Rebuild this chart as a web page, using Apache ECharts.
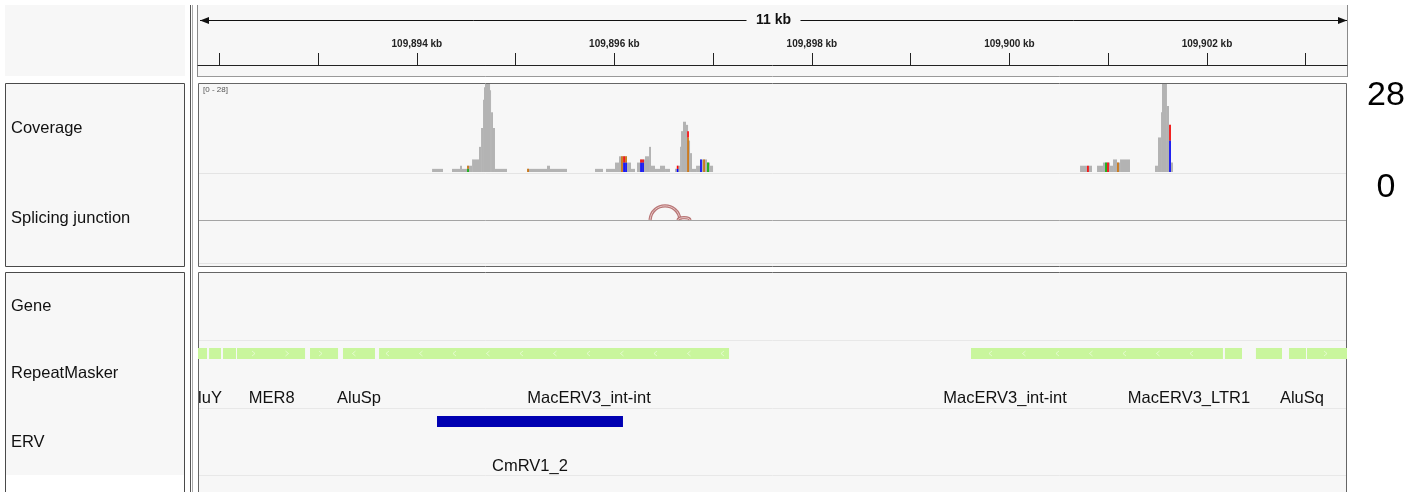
<!DOCTYPE html>
<html><head><meta charset="utf-8">
<script src="https://cdn.jsdelivr.net/npm/echarts@6/dist/echarts.min.js"></script>
<style>html,body{margin:0;padding:0;background:#fff;}#c{width:1414px;height:492px;}</style>
</head><body><div id="c"></div>
<script>
// ---------------- DATA ----------------
const viewStart = 109891784;
const viewEnd = 109903418;
const rulerTicks = [109892000,109893000,109894000,109895000,109896000,109897000,109898000,109899000,109900000,109901000,109902000,109903000];
const rulerLabels = [109894000,109896000,109898000,109900000,109902000];
const trackNames = ['Coverage','Splicing junction','Gene','RepeatMasker','ERV'];
const coverageMax = 28;
const sideLabels = [0, 28];
// [start, end, depth]
const coverage = [
 [109894154,109894265,1],[109894356,109894437,1],[109894437,109894457,2],[109894457,109894508,1],
 [109894508,109894559,2],[109894559,109894629,4],[109894629,109894650,8],[109894650,109894670,14],
 [109894670,109894680,23],[109894680,109894690,27],[109894690,109894741,28],[109894741,109894751,26],
 [109894751,109894771,19],[109894771,109894791,14],[109894791,109894913,1],
 [109895115,109895318,1],[109895318,109895348,2],[109895348,109895520,1],
 [109895804,109895885,1],[109895915,109896006,1],[109896006,109896047,3],[109896047,109896128,5],
 [109896128,109896168,3],[109896168,109896209,1],[109896229,109896260,3],[109896260,109896310,4],
 [109896310,109896351,5],[109896351,109896371,8],[109896371,109896411,2],[109896411,109896462,1],
 [109896462,109896513,2],[109896513,109896563,1],[109896614,109896634,1],[109896634,109896665,2],
 [109896665,109896675,8],[109896675,109896695,13],[109896695,109896725,16],[109896725,109896746,15],
 [109896746,109896766,10],[109896766,109896786,6],[109896786,109896827,1],[109896827,109896867,2],
 [109896867,109896938,4],[109896938,109896968,3],[109896968,109896999,2],
 [109900715,109900836,2],[109900887,109900947,2],[109900947,109901018,3],[109901018,109901049,2],
 [109901049,109901089,4],[109901089,109901120,3],[109901120,109901221,4],
 [109901474,109901504,2],[109901504,109901535,11],[109901535,109901545,19],[109901545,109901595,28],
 [109901595,109901616,21],[109901616,109901636,15],[109901636,109901656,3]
];
// [position, base, fromDepth, toDepth]
const mismatches = [
 [109894518,'A',0,1],[109894518,'G',1,2],[109895126,'G',0,1],
 [109896077,'G',0,5],[109896098,'C',0,3],[109896098,'T',3,5],[109896118,'C',0,3],[109896118,'G',3,5],
 [109896270,'C',0,3],[109896270,'T',3,4],[109896290,'C',0,3],[109896290,'T',3,4],
 [109896640,'C',0,1],[109896640,'T',1,2],[109896746,'G',0,11],[109896746,'T',11,13],
 [109896877,'C',0,4],[109896908,'G',0,4],[109896948,'A',0,3],
 [109900795,'T',0,2],[109900978,'A',0,3],[109900998,'T',0,3],[109901099,'G',0,3],
 [109901626,'C',0,10],[109901626,'T',10,15]
];
// [start, end, depth]
const junctions = [[109896361,109896665,3],[109896644,109896766,0.5]];
// [start, end, strand]
const repeatSegments = [
 [109891700,109891875,'+'],[109891896,109892017,'+'],[109892037,109892169,'+'],[109892179,109892868,'+'],
 [109892918,109893202,'+'],[109893252,109893576,'-'],[109893617,109897161,'-'],[109899611,109902162,'-'],
 [109902182,109902355,'-'],[109902496,109902760,'+'],[109902831,109903003,'+'],[109903013,109903600,'+']
];
const repeatLabels = [
 [109891850,'AluY'],[109892531,'MER8'],[109893414,'AluSp'],[109895743,'MacERV3_int-int'],
 [109899955,'MacERV3_int-int'],[109901818,'MacERV3_LTR1'],[109902962,'AluSq']
];
const ervFeatures = [[109894204,109896087,'CmRV1_2']];

// ---------------- STYLE / LAYOUT ----------------
const FONT = '"Liberation Sans", Arial, Helvetica, sans-serif';
const baseColors = {A:'#00b000', C:'#0000ff', G:'#d17105', T:'#ff0000'};
const L = 198, W = 1149;
const trackLabelY = [128, 218, 306, 373, 442];
const chart = echarts.init(document.getElementById('c'), null, {renderer:'canvas'});

function xAxisFor(gi, show) {
  return {type:'value', gridIndex:gi, min:viewStart, max:viewEnd, show:!!show};
}
const hiddenY = (gi, min, max) => ({type:'value', gridIndex:gi, min, max, show:false});

const panelFill = '#f7f7f7';
const graphics = [
  {type:'rect', shape:{x:5,y:5,width:180,height:71}, style:{fill:panelFill}, silent:true},
  {type:'rect', shape:{x:198,y:5,width:1149,height:72}, style:{fill:panelFill}, silent:true},
  {type:'line', shape:{x1:197.5,y1:5,x2:197.5,y2:77}, style:{stroke:'#8a8a8a',lineWidth:1}},
  {type:'line', shape:{x1:1347.5,y1:5,x2:1347.5,y2:77}, style:{stroke:'#8a8a8a',lineWidth:1}},
  {type:'line', shape:{x1:198,y1:76.5,x2:1347,y2:76.5}, style:{stroke:'#9a9a9a',lineWidth:1}},
  {type:'rect', shape:{x:5.5,y:83.5,width:179,height:183}, style:{fill:panelFill, stroke:'#4a4a4a', lineWidth:1}},
  {type:'rect', shape:{x:198.5,y:83.5,width:1148,height:183}, style:{fill:panelFill, stroke:'#666', lineWidth:1}},
  {type:'rect', shape:{x:5,y:272,width:180,height:203}, style:{fill:panelFill}},
  {type:'rect', shape:{x:5.5,y:272.5,width:179,height:240}, style:{fill:null, stroke:'#4a4a4a', lineWidth:1}},
  {type:'rect', shape:{x:198.5,y:272.5,width:1148,height:240}, style:{fill:panelFill, stroke:'#666', lineWidth:1}},
  {type:'line', shape:{x1:199,y1:173.5,x2:1346,y2:173.5}, style:{stroke:'#e4e4e4',lineWidth:1}},
  {type:'line', shape:{x1:199,y1:263.5,x2:1346,y2:263.5}, style:{stroke:'#e4e4e4',lineWidth:1}},
  {type:'line', shape:{x1:199,y1:220.5,x2:1346,y2:220.5}, style:{stroke:'#a4a4a4',lineWidth:1}},
  {type:'line', shape:{x1:199,y1:340.5,x2:1346,y2:340.5}, style:{stroke:'#e8e8e8',lineWidth:1}},
  {type:'line', shape:{x1:199,y1:408.5,x2:1346,y2:408.5}, style:{stroke:'#e8e8e8',lineWidth:1}},
  {type:'line', shape:{x1:199,y1:475.5,x2:1346,y2:475.5}, style:{stroke:'#e8e8e8',lineWidth:1}},
  {type:'line', shape:{x1:190.5,y1:5,x2:190.5,y2:492}, style:{stroke:'#555',lineWidth:1}},
  {type:'line', shape:{x1:192.5,y1:5,x2:192.5,y2:492}, style:{stroke:'#aaa',lineWidth:1}},
  {type:'text', x:203, y:86, style:{text:'[0 - ' + coverageMax + ']', fontSize:8, fill:'#555', fontFamily:FONT}}
];
trackNames.forEach((n, i) => graphics.push({type:'text', x:11, y:trackLabelY[i],
  style:{text:n, fontSize:16.5, fill:'#111', fontFamily:FONT, verticalAlign:'middle'}}));

const option = {
  animation:false,
  backgroundColor:'#ffffff',
  graphic:{elements:graphics},
  grid:[
    {left:L, width:W, top:5, height:60},
    {left:L, width:W, top:84, height:88},
    {left:L, width:W, top:173, height:47},
    {left:L, width:W, top:340, height:68},
    {left:L, width:W, top:408, height:67},
    {left:L, width:W, top:96, height:92}
  ],
  xAxis:[
    {type:'value', gridIndex:0, min:viewStart, max:viewEnd, position:'bottom',
     axisLine:{show:true, lineStyle:{color:'#222', width:1}},
     axisTick:{show:true, inside:true, length:12, customValues:rulerTicks, lineStyle:{color:'#222', width:1}},
     axisLabel:{show:true, inside:true, margin:16, customValues:rulerLabels, fontSize:10, fontWeight:'bold', color:'#222', fontFamily:FONT,
       formatter:v => (v/1000).toLocaleString('en-US') + ' kb'},
     splitLine:{show:false}},
    xAxisFor(1), xAxisFor(2), xAxisFor(3), xAxisFor(4), xAxisFor(5)
  ],
  yAxis:[
    hiddenY(0,0,1), hiddenY(1,0,coverageMax), hiddenY(2,0,10), hiddenY(3,0,1), hiddenY(4,0,1),
    {type:'value', gridIndex:5, min:0, max:coverageMax, position:'right',
     axisLine:{show:false}, axisTick:{show:false}, splitLine:{show:false},
     axisLabel:{show:true, customValues:sideLabels, fontSize:34, color:'#000', fontFamily:FONT, margin:39, align:'center'}}
  ],
  series:[
    // ruler span arrow
    {type:'custom', xAxisIndex:0, yAxisIndex:0, data:[[viewStart, viewEnd]], silent:true,
     renderItem:(params, api) => {
       const a = api.coord([api.value(0), 0])[0] + 2, b = api.coord([api.value(1), 0])[0];
       const y = params.coordSys.y + 15.5, mid = (a + b) / 2;
       const label = Math.floor((api.value(1) - api.value(0)) / 1000) + ' kb';
       return {type:'group', children:[
         {type:'line', shape:{x1:a, y1:y, x2:mid-27, y2:y}, style:{stroke:'#111', lineWidth:1}},
         {type:'line', shape:{x1:mid+27, y1:y, x2:b, y2:y}, style:{stroke:'#111', lineWidth:1}},
         {type:'polygon', shape:{points:[[a,y],[a+9,y-3.5],[a+9,y+3.5]]}, style:{fill:'#111'}},
         {type:'polygon', shape:{points:[[b,y],[b-9,y-3.5],[b-9,y+3.5]]}, style:{fill:'#111'}},
         {type:'text', x:mid, y:y, style:{text:label, fontSize:14, fontWeight:'bold', fill:'#111', fontFamily:FONT, align:'center', verticalAlign:'middle'}}
       ]};
     }},
    // coverage
    {type:'custom', xAxisIndex:1, yAxisIndex:1, data:coverage, clip:true, silent:true,
     renderItem:(params, api) => {
       const p0 = api.coord([api.value(0), api.value(2)]), p1 = api.coord([api.value(1), 0]);
       return {type:'rect', shape:{x:p0[0], y:p0[1], width:Math.max(p1[0]-p0[0], 1), height:p1[1]-p0[1]}, style:{fill:'#b3b3b3'}};
     }},
    // mismatch colours
    {type:'custom', xAxisIndex:1, yAxisIndex:1, data:mismatches.map(m => [m[0], m[2], m[3]]), clip:true, silent:true, z:3,
     renderItem:(params, api) => {
       const m = mismatches[params.dataIndex];
       const p0 = api.coord([m[0], m[3]]), p1 = api.coord([m[0], m[2]]);
       return {type:'rect', shape:{x:p0[0]-0.8, y:p0[1], width:1.6, height:p1[1]-p0[1]}, style:{fill:baseColors[m[1]]}};
     }},
    // splice junctions
    {type:'custom', xAxisIndex:2, yAxisIndex:2, data:junctions, clip:false, silent:true,
     renderItem:(params, api) => {
       const a = api.coord([api.value(0), 0]), b = api.coord([api.value(1), 0]);
       const top = api.coord([api.value(0), api.value(2)])[1];
       const cy = a[1] - (a[1] - top) * 4 / 3;
       const shape = {x1:a[0], y1:a[1], x2:b[0], y2:b[1], cpx1:a[0] + (b[0]-a[0])*0.05, cpy1:cy, cpx2:b[0] - (b[0]-a[0])*0.05, cpy2:cy};
       return {type:'group', children:[
         {type:'bezierCurve', shape:shape, style:{stroke:'#b87676', lineWidth:3.2, fill:null}},
         {type:'bezierCurve', shape:shape, style:{stroke:'#e6c4c4', lineWidth:1, fill:null}}
       ]};
     }},
    // RepeatMasker blocks
    {type:'custom', xAxisIndex:3, yAxisIndex:3, data:repeatSegments.map(r => [r[0], r[1]]), clip:true, silent:true,
     renderItem:(params, api) => {
       const r = repeatSegments[params.dataIndex];
       const x0 = api.coord([r[0], 0])[0], x1 = api.coord([r[1], 0])[0];
       const y = params.coordSys.y + 8, h = 11;
       const children = [{type:'rect', shape:{x:x0, y:y, width:x1-x0, height:h}, style:{fill:'#c9f69d'}}];
       const gx = params.coordSys.x;
       for (let k = 0; k < 40; k++) {
         const cx = gx + 22 + 33.5 * k;
         if (cx < x0 + 5 || cx > x1 - 5) continue;
         const d = r[2] === '+' ? 1 : -1;
         children.push({type:'polyline', shape:{points:[[cx - 1.5*d, y+3],[cx + 1.5*d, y+5.5],[cx - 1.5*d, y+8]]},
           style:{stroke:'rgba(255,255,255,0.6)', lineWidth:0.8, fill:null}});
       }
       return {type:'group', children};
     }},
    // RepeatMasker labels
    {type:'custom', xAxisIndex:3, yAxisIndex:3, data:repeatLabels.map(r => [r[0], 0]), clip:true, silent:true,
     renderItem:(params, api) => {
       const r = repeatLabels[params.dataIndex];
       const x = api.coord([r[0], 0])[0];
       return {type:'text', x:x, y:params.coordSys.y + 58, style:{text:r[1], fontSize:16.5, fill:'#111', fontFamily:FONT, align:'center', verticalAlign:'middle'}};
     }},
    // ERV
    {type:'custom', xAxisIndex:4, yAxisIndex:4, data:ervFeatures.map(e => [e[0], e[1]]), clip:true, silent:true,
     renderItem:(params, api) => {
       const e = ervFeatures[params.dataIndex];
       const x0 = api.coord([e[0], 0])[0], x1 = api.coord([e[1], 0])[0];
       const y = params.coordSys.y + 8;
       return {type:'group', children:[
         {type:'rect', shape:{x:x0, y:y, width:x1-x0, height:11}, style:{fill:'#0000b2'}},
         {type:'text', x:(x0+x1)/2, y:params.coordSys.y + 58, style:{text:e[2], fontSize:16.5, fill:'#111', fontFamily:FONT, align:'center', verticalAlign:'middle'}}
       ]};
     }}
  ]
};
chart.setOption(option);
</script></body></html>
